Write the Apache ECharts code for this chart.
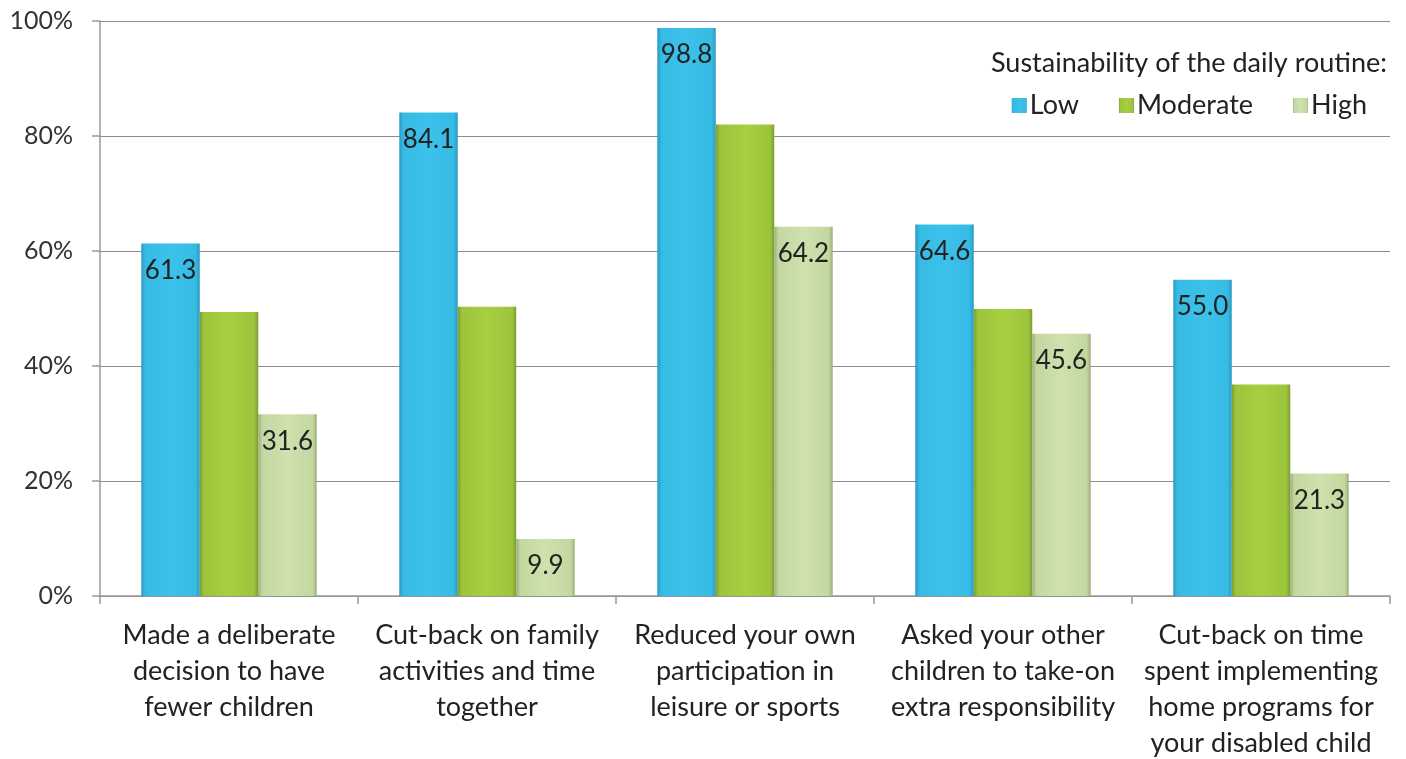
<!DOCTYPE html>
<html>
<head>
<meta charset="utf-8">
<script src="https://cdn.jsdelivr.net/npm/echarts@6/dist/echarts.min.js"></script>
<style>
  html, body { margin: 0; padding: 0; background: #fff; }
  #chartDiv { width: 1406px; height: 759px; }
</style>
</head>
<body>
<div id="chartDiv"></div>
<script>
// 初始化图表
var myChart = echarts.init(document.getElementById('chartDiv'));
window.onresize = myChart.resize;

// 数据
var categories = [
    'Made a deliberate\ndecision to have\nfewer children',
    'Cut-back on family\nactivities and time\ntogether',
    'Reduced your own\nparticipation in\nleisure or sports',
    'Asked your other\nchildren to take-on\nextra responsibility',
    'Cut-back on time\nspent implementing\nhome programs for\nyour disabled child'
];
var lowValues = [61.3, 84.1, 98.8, 64.6, 55.0];
var moderateValues = [49.4, 50.3, 82.0, 49.9, 36.8];
var highValues = [31.6, 9.9, 64.2, 45.6, 21.3];
var yTicks = [0, 20, 40, 60, 80, 100];

var fontFamily = 'Lato, "Open Sans", sans-serif';

// 柱子的渐变色(左右边缘较暗)
function barColor(edge, mid, top) {
    return {
        type: 'linear', x: 0, y: 0, x2: 1, y2: 0,
        colorStops: [
            {offset: 0, color: edge},
            {offset: 0.07, color: mid},
            {offset: 0.5, color: top},
            {offset: 0.93, color: mid},
            {offset: 1, color: edge}
        ]
    };
}

var valueLabel = {
    show: true,
    position: 'insideTop',
    distance: 14,
    color: '#222',
    fontSize: 26,
    fontFamily: fontFamily,
    formatter: function (p) { return p.value.toFixed(1); }
};

var option = {
    backgroundColor: '#fff',
    animation: false,
    textStyle: {fontFamily: fontFamily},
    title: {
        text: 'Sustainability of the daily routine:',
        right: 14,
        top: 45,
        textStyle: {
            fontSize: 27,
            fontWeight: 'normal',
            color: '#222',
            fontFamily: fontFamily
        }
    },
    legend: {
        data: ['Low', 'Moderate', 'High'],
        right: 34,
        top: 87,
        itemWidth: 15,
        itemHeight: 15,
        itemGap: 40,
        icon: 'rect',
        textStyle: {
            fontSize: 27,
            color: '#222',
            padding: [0, 0, 0, -2],
            fontFamily: fontFamily
        }
    },
    grid: {
        left: 100,
        right: 16,
        top: 21,
        bottom: 163,
        containLabel: false,
        outerBoundsMode: 'none'
    },
    xAxis: {
        type: 'category',
        data: categories,
        axisLine: {lineStyle: {color: '#999', width: 1.5}},
        axisTick: {show: true, length: 8, alignWithLabel: false, lineStyle: {color: '#999', width: 1.5}},
        axisLabel: {
            interval: 0,
            margin: 21,
            fontSize: 27,
            lineHeight: 36,
            color: '#222',
            fontFamily: fontFamily
        }
    },
    yAxis: {
        type: 'value',
        min: yTicks[0],
        max: yTicks[yTicks.length - 1],
        interval: 20,
        axisLine: {show: true, lineStyle: {color: '#999', width: 1.5}},
        axisTick: {show: true, length: 8, lineStyle: {color: '#999', width: 1.5}},
        splitLine: {lineStyle: {color: '#8c8c8c', width: 1.2}},
        axisLabel: {
            margin: 27,
            fontSize: 25,
            color: '#333',
            fontFamily: fontFamily,
            formatter: '{value}%'
        }
    },
    series: [
        {
            name: 'Low',
            type: 'bar',
            data: lowValues,
            barGap: '0%',
            barCategoryGap: '32%',
            itemStyle: {color: barColor('#2b98c0', '#36bbe4', '#3cc2ea')},
            label: valueLabel
        },
        {
            name: 'Moderate',
            type: 'bar',
            data: moderateValues,
            itemStyle: {
                color: barColor('#7c9c30', '#9cc43c', '#a8cf40')
            }
        },
        {
            name: 'High',
            type: 'bar',
            data: highValues,
            itemStyle: {color: barColor('#9cae7a', '#c3d7a0', '#cfe2ae')},
            label: valueLabel
        }
    ]
};
myChart.setOption(option);
</script>
</body>
</html>
